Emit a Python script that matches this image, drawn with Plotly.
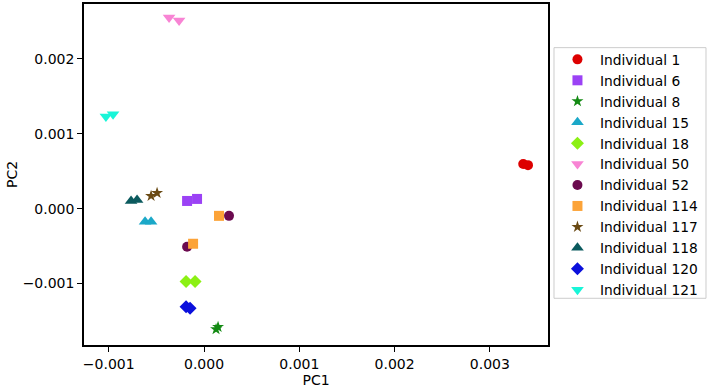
import plotly.graph_objects as go

# Data
individuals = ["Individual 1", "Individual 6", "Individual 8", "Individual 15",
               "Individual 18", "Individual 50", "Individual 52", "Individual 114",
               "Individual 117", "Individual 118", "Individual 120", "Individual 121"]

pc1 = {
    "Individual 1": [0.00335, 0.00340],
    "Individual 6": [-0.000178, -0.0000735],
    "Individual 8": [0.000126, 0.000147],
    "Individual 15": [-0.000619, -0.000556],
    "Individual 18": [-0.000189, -0.0000945],
    "Individual 50": [-0.000367, -0.000262],
    "Individual 52": [-0.000178, 0.000262],
    "Individual 114": [0.000157, -0.000115],
    "Individual 117": [-0.000556, -0.000493],
    "Individual 118": [-0.000766, -0.000703],
    "Individual 120": [-0.000189, -0.000147],
    "Individual 121": [-0.00103, -0.000955],
}
pc2 = {
    "Individual 1": [0.000594, 0.000580],
    "Individual 6": [0.000102, 0.000129],
    "Individual 8": [-0.00161, -0.00158],
    "Individual 15": [-0.000177, -0.000177],
    "Individual 18": [-0.000973, -0.000973],
    "Individual 50": [0.00255, 0.00251],
    "Individual 52": [-0.000509, -0.0000969],
    "Individual 114": [-0.0000969, -0.000469],
    "Individual 117": [0.000169, 0.000208],
    "Individual 118": [0.000102, 0.000115],
    "Individual 120": [-0.00131, -0.00133],
    "Individual 121": [0.00123, 0.00126],
}

colors = ["#dd0000", "#9b42f5", "#138a13", "#1ba8c8", "#8cf014", "#f884d4",
          "#6b0a4f", "#fca338", "#6a4a14", "#0b5a5e", "#0b10dc", "#19f5d8"]
symbols = ["circle", "square", "star", "triangle-up", "diamond", "triangle-down",
           "circle", "square", "star", "triangle-up", "diamond", "triangle-down"]
sizes = [10, 10, 9, 11, 10, 11, 10, 10, 9, 11, 10, 11]

x_ticks = [-0.001, 0.0, 0.001, 0.002, 0.003]
y_ticks = [-0.001, 0.0, 0.001, 0.002]

fig = go.Figure()
for name, c, s, sz in zip(individuals, colors, symbols, sizes):
    fig.add_trace(go.Scatter(
        x=pc1[name], y=pc2[name], mode="markers", name=name,
        marker=dict(color=c, symbol=s, size=sz, line=dict(width=0)),
    ))

axis_common = dict(
    showline=True, linecolor="black", linewidth=1.5, mirror=True,
    ticks="outside", ticklen=5, tickwidth=1, tickcolor="black",
    showgrid=False, zeroline=False, tickformat=".3f",
    tickfont=dict(family="DejaVu Sans", size=14, color="black"),
)

fig.update_layout(
    width=708, height=389,
    margin=dict(l=84, r=160, t=2, b=44),
    paper_bgcolor="white", plot_bgcolor="white",
    font=dict(family="DejaVu Sans", size=14, color="black"),
    xaxis=dict(range=[-0.00126, 0.00361], tickvals=x_ticks,
               title=dict(text="PC1", font=dict(size=14), standoff=2),
               **axis_common),
    yaxis=dict(range=[-0.00182, 0.00273], tickvals=y_ticks,
               title=dict(text="PC2", font=dict(size=14), standoff=2),
               **axis_common),
    legend=dict(x=1.015, xanchor="left", y=0.883, yanchor="top",
                borderwidth=0, bgcolor="rgba(0,0,0,0)",
                font=dict(family="DejaVu Sans", size=13.8, color="black"),
                itemwidth=35, tracegroupgap=0),
    showlegend=True,
    shapes=[dict(type="rect", xref="paper", yref="paper",
                 x0=1.0129, x1=1.3405, y0=0.137, y1=0.872,
                 line=dict(color="#cccccc", width=1), fillcolor="rgba(0,0,0,0)",
                 layer="below")],
)

fig.write_html("out.html")
